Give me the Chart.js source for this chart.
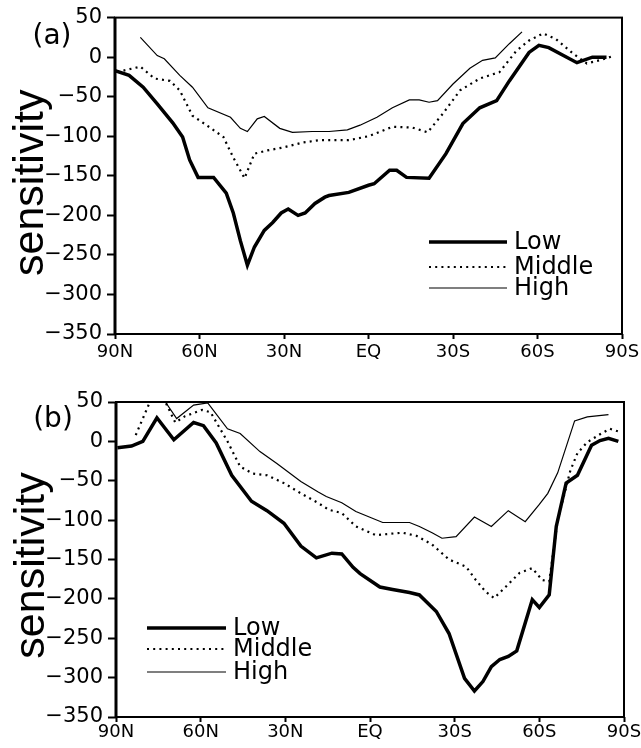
<!DOCTYPE html>
<html lang="en">
<head>
<meta charset="UTF-8">
<title>Sensitivity by latitude</title>
<script src="https://cdn.jsdelivr.net/npm/chart.js"></script>
<style>
  body { margin: 0; background: #fff; }
  .panel { position: absolute; left: 0; width: 641px; height: 374px; }
</style>
</head>
<body>
<div class="panel" style="top:0"><canvas id="chart-a" width="641" height="374"></canvas></div>
<div class="panel" style="top:374px"><canvas id="chart-b" width="641" height="374"></canvas></div>

<script>
// latitudes in degrees (north positive)

// panel (a)
const latLowA = [90, 85, 80, 75, 69.5, 66, 63.5, 60.5, 55, 50.5, 48, 45.5, 43, 40.5, 37, 34, 31, 28.5, 25, 22.5, 19, 15.5, 14, 7, 0, -2, -7.5, -10, -13.5, -21.5, -27.5, -33.5, -39.5, -45.5, -50, -57, -60.5, -64, -74, -79.5, -84.5];
const lowA = [-17, -23, -38, -59, -83, -101, -130, -152, -152, -172, -197, -232, -263, -240, -219, -209, -197, -192, -200, -197, -185, -177, -175, -171, -162, -160, -143, -143, -152, -153, -122, -84, -64, -55, -30, 6, 15, 12, -7, 0, 0];

const latMidA = [87, 81, 76, 70.5, 67, 62.5, 57.5, 51.5, 48, 44, 40.5, 36, 30, 23.5, 17.5, 7, 0, -8.5, -15.5, -21, -26.5, -32.5, -39.5, -46.5, -52.5, -57, -62, -66.5, -72.5, -77.5, -82, -86.5];
const midA = [-17, -12, -27, -30, -42, -74, -86, -101, -127, -153, -122, -118, -114, -108, -105, -105, -100, -88, -89, -95, -71, -42, -27, -19, 8, 21, 30, 23, 5, -8, -4, 1];

const latHighA = [81, 75, 72.5, 67, 62.5, 57, 49, 45.5, 43, 39.5, 37, 31.5, 27, 20, 14, 7.5, 3, -3, -8.5, -14.5, -18, -21.5, -24.5, -30, -36, -40.5, -45, -50, -54.5];
const highA = [25, 2, -2, -23, -38, -64, -76, -90, -94, -78, -75, -90, -95, -94, -94, -92, -86, -76, -64, -54, -54, -57, -55, -34, -14, -4, -1, 17, 32];

// panel (b)
const latLowB = [89.5, 84.5, 80.5, 75.5, 69.5, 62.5, 59, 54.5, 49, 42, 36.5, 30.5, 24.5, 19, 13.5, 10, 6, 3.5, -3.5, -8, -14, -17.5, -23.5, -28, -33.5, -37, -40, -43, -46, -49, -52, -57.5, -60, -63.5, -66, -69.5, -73.5, -78.5, -81.5, -84.5, -88];
const lowB = [-8, -6, 0, 30, 2, 24, 20, -2, -43, -76, -88, -104, -133, -148, -142, -143, -160, -168, -185, -188, -192, -195, -216, -244, -301, -317, -305, -286, -277, -273, -266, -201, -211, -195, -108, -53, -43, -5, 1, 4, 0];

const latMidB = [83, 80.5, 78, 75.5, 72.5, 69, 65.5, 59.5, 56.5, 50.5, 46, 41.5, 36.5, 30.5, 24.5, 18.5, 14.5, 10, 5, -2, -11.5, -16.5, -22, -28, -34, -37.5, -41, -44, -48, -53, -57.5, -61, -63.5, -66.5, -71, -73.5, -77, -81.5, -85, -88.5];
const midB = [8, 29, 50, 56, 50, 24, 32, 40, 37, 0, -32, -41, -43, -53, -66, -78, -87, -91, -108, -119, -116, -120, -131, -150, -159, -176, -191, -199, -185, -167, -161, -176, -178, -100, -37, -15, -1, 9, 16, 12];

const latHighB = [76, 72.5, 68.5, 62.5, 57.5, 50.5, 46, 39, 33, 24.5, 18.5, 15.5, 10, 5, -4.5, -14, -17.5, -22, -25.5, -30.5, -37, -43, -49, -55, -60, -63, -66.5, -72.5, -77, -84.5];
const highB = [62, 50, 29, 46, 49, 16, 10, -13, -28, -51, -64, -70, -78, -89, -103, -103, -108, -116, -123, -121, -96, -108, -88, -102, -80, -66, -40, 26, 31, 34];

const seriesNames = ['Low', 'Middle', 'High'];
const latTicks = [90, 60, 30, 0, -30, -60, -90];
const TICK_FONT = '"DejaVu Sans", sans-serif';
const TITLE_FONT = '"Liberation Sans", Arial, sans-serif';

function pts(lats, vals) {
    return lats.map((x, i) => ({ x: x, y: vals[i] }));
}

function latLabel(v) {
    if (v === 0) return 'EQ';
    return v > 0 ? v + 'N' : (-v) + 'S';
}

// frame, panel letter, y title and legend
const panelDeco = {
    id: 'panelDeco',
    afterDraw(chart, args, opts) {
        const ctx = chart.ctx;
        const a = chart.chartArea;
        ctx.save();
        ctx.strokeStyle = '#000';
        ctx.lineWidth = 2;
        ctx.strokeRect(a.left, a.top, a.right - a.left, a.bottom - a.top);
        ctx.lineWidth = 3;
        ctx.beginPath();
        ctx.moveTo(a.left, a.top);
        ctx.lineTo(a.left, a.bottom);
        ctx.stroke();

        ctx.fillStyle = '#000';
        ctx.font = '28px ' + TICK_FONT;
        ctx.textAlign = 'center';
        ctx.textBaseline = 'middle';
        ctx.fillText(opts.letter, opts.letterX, opts.letterY);

        // legend
        ctx.textAlign = 'left';
        ctx.font = '24px ' + TICK_FONT;
        chart.data.datasets.forEach((ds, i) => {
            const y = opts.legendY[i];
            ctx.save();
            ctx.lineWidth = ds.borderWidth;
            ctx.setLineDash(ds.borderDash || []);
            ctx.beginPath();
            ctx.moveTo(opts.legendX0, y);
            ctx.lineTo(opts.legendX1, y);
            ctx.stroke();
            ctx.restore();
            ctx.fillText(ds.label, opts.legendX1 + 7, y + 1);
        });

        // y title
        ctx.translate(opts.titleX, (a.top + a.bottom) / 2 + opts.titleShift);
        ctx.rotate(-Math.PI / 2);
        ctx.font = '43px ' + TITLE_FONT;
        ctx.textAlign = 'center';
        ctx.textBaseline = 'alphabetic';
        ctx.fillText('sensitivity', 0, 0);
        ctx.restore();
    }
};

function makeChart(id, low, mid, high, layout, deco) {
    new Chart(document.getElementById(id), {
        type: 'line',
        data: {
            datasets: [
                { label: seriesNames[0], data: low, borderColor: '#000', borderWidth: 3.5 },
                { label: seriesNames[1], data: mid, borderColor: '#000', borderWidth: 2.2, borderDash: [2, 4.2] },
                { label: seriesNames[2], data: high, borderColor: '#000', borderWidth: 1.2 }
            ]
        },
        options: {
            responsive: false,
            animation: false,
            layout: { padding: layout.padding },
            elements: {
                point: { radius: 0 },
                line: { tension: 0, fill: false, borderCapStyle: 'butt' }
            },
            plugins: {
                legend: { display: false },
                tooltip: { enabled: false },
                panelDeco: deco
            },
            scales: {
                x: {
                    type: 'linear',
                    min: -90,
                    max: 90,
                    reverse: true,
                    afterBuildTicks: s => { s.ticks = latTicks.map(v => ({ value: v })); },
                    afterFit: s => { s.height = layout.xHeight; s.paddingLeft = 0; s.paddingRight = 0; },
                    border: { display: false },
                    grid: { drawOnChartArea: false, tickLength: 5, tickWidth: 2, tickColor: '#000' },
                    ticks: {
                        color: '#000',
                        font: { family: TICK_FONT, size: 18 },
                        padding: layout.xPad,
                        maxRotation: 0,
                        callback: v => latLabel(v)
                    }
                },
                y: {
                    min: -350,
                    max: 50,
                    afterFit: s => { s.width = layout.yWidth; },
                    border: { display: false },
                    grid: { drawOnChartArea: false, tickLength: 8, tickWidth: 2, tickColor: '#000' },
                    ticks: {
                        stepSize: 50,
                        color: '#000',
                        font: { family: TICK_FONT, size: 21 },
                        padding: 5,
                        callback: v => String(v).replace('-', '\u2212')
                    }
                }
            }
        },
        plugins: [panelDeco]
    });
}

makeChart('chart-a', pts(latLowA, lowA), pts(latMidA, midA), pts(latHighA, highA),
    { padding: { left: 0, right: 19, top: 17, bottom: 0 }, xHeight: 40, yWidth: 115, xPad: 3 },
    { letter: '(a)', letterX: 52, letterY: 37, titleX: 43, titleShift: 7,
      legendX0: 429, legendX1: 507, legendY: [242, 267, 288] });

makeChart('chart-b', pts(latLowB, lowB), pts(latMidB, midB), pts(latHighB, highB),
    { padding: { left: 0, right: 17, top: 28, bottom: 0 }, xHeight: 31, yWidth: 116, xPad: 0 },
    { letter: '(b)', letterX: 53, letterY: 46, titleX: 44, titleShift: 6,
      legendX0: 147, legendX1: 226, legendY: [254, 275, 298] });
</script>
</body>
</html>
